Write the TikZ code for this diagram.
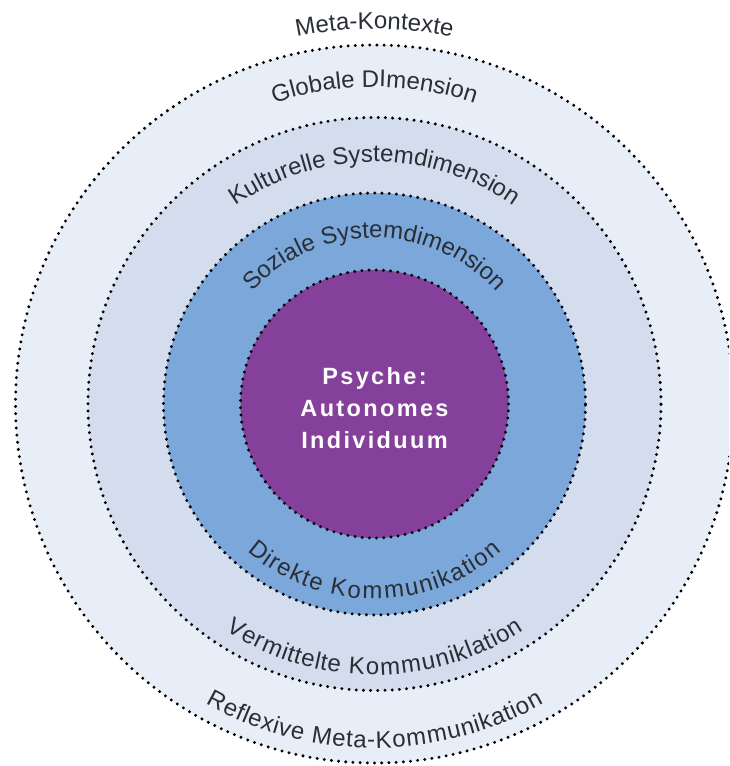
\documentclass[tikz,border=0pt]{standalone}
\usepackage{fontspec}
\setmainfont{Liberation Sans}
\newfontfamily\psychefont[LetterSpace=10]{Liberation Sans}
\usetikzlibrary{decorations.text}
\definecolor{ringA}{HTML}{E8EEF8}
\definecolor{ringB}{HTML}{D3DDEE}
\definecolor{ringC}{HTML}{7BA7DA}
\definecolor{core}{HTML}{84409A}
\definecolor{labelcol}{HTML}{2A2E35}
\newcommand{\lblfont}{\color{labelcol}\fontsize{24}{28}\selectfont}
\begin{document}
\begin{tikzpicture}[x=1pt,y=1pt,
  ring/.style={circle, inner sep=0pt, draw=black, line width=3.3pt,
    dash pattern=on 0pt off 7.2pt, line cap=round},
  toplabel/.style={decorate, decoration={text along path, text align=center,
    text={|\lblfont|#1}}},
  botlabel/.style={decorate, decoration={text along path, text align=center,
    raise=-22pt, text={|\lblfont|#1}}}]
\useasboundingbox (0,0) rectangle (729,766);
\fill[white] (0,0) rectangle (729,766);
\clip (0,0) rectangle (729,766);
\coordinate (c) at (374.5,362);
\node[ring, fill=ringA, minimum size=718pt] (meta) at (c) {};
\node[ring, fill=ringB, minimum size=573pt] (kult) at (c) {};
\node[ring, fill=ringC, minimum size=422pt] (soz) at (c) {};
\node[ring, fill=core, minimum size=268pt] (psy) at (c) {};
\node[text=white, align=center, font=\psychefont\bfseries\fontsize{23.5}{32}\selectfont] (psytext) at ([yshift=-4pt]c) {Psyche:\\Autonomes\\Individuum};
% top labels
\path[toplabel={Meta-Kontexte}] (c) ++(175:375pt) arc[start angle=175, end angle=5, radius=375pt];
\path[toplabel={Globale DImension}] (c) ++(175:317pt) arc[start angle=175, end angle=5, radius=317pt];
\path[toplabel={Kulturelle Systemdimension}] (c) ++(175:242pt) arc[start angle=175, end angle=5, radius=242pt];
\path[toplabel={Soziale Systemdimension}] (c) ++(175:166pt) arc[start angle=175, end angle=5, radius=166pt];
% bottom labels (path inside, text raised outward to widen the letter spacing)
\path[botlabel={Direkte Kommunikation}] (c) ++(185:173pt) arc[start angle=185, end angle=355, radius=173pt];
\path[botlabel={Vermittelte Kommuniklation}] (c) ++(185:249pt) arc[start angle=185, end angle=355, radius=249pt];
\path[botlabel={Reflexive Meta-Kommunikation}] (c) ++(185:322pt) arc[start angle=185, end angle=355, radius=322pt];
\end{tikzpicture}
\end{document}
